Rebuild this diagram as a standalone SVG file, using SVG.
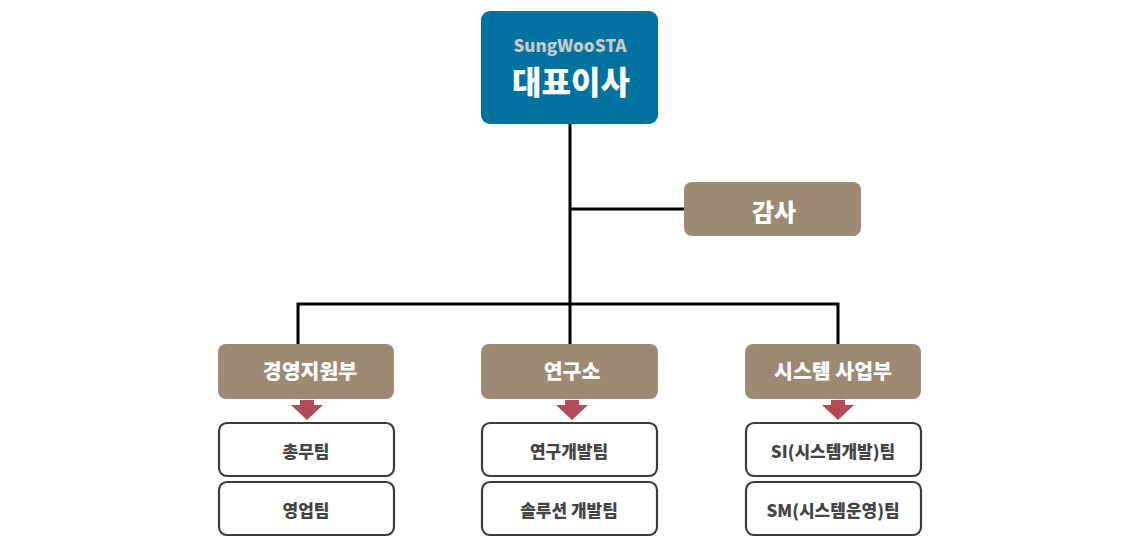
<svg xmlns="http://www.w3.org/2000/svg" width="1140" height="549" viewBox="0 0 1140 549">
<style>
.t{font-family:"Noto Sans CJK KR","Noto Sans",sans-serif;font-weight:900;text-anchor:middle;dominant-baseline:central}
.dept rect{fill:#9c8a74}
.dept text{fill:#fff;font-size:20.5px}
.team rect{fill:#fff;stroke:#3c3c3c;stroke-width:2.2}
.team text{fill:#444;font-size:17px}
.arr{fill:#b04b57}
.conn{stroke:#000;stroke-width:3;fill:none}
</style>
<rect width="1140" height="549" fill="#fff"/>
<g id="connectors">
<path class="conn" d="M570 124V304M570 209H684M298 344V304H838V344M570 304V344"/>
</g>
<g id="ceo">
<rect x="481" y="11" width="177" height="113" rx="9" fill="#0072a0"/>
<text class="t" x="570" y="44" font-size="17" fill="#c9c9c9">SungWooSTA</text>
<text class="t" x="571" y="80" font-size="32" fill="#fff">대표이사</text>
</g>
<g id="audit" class="dept">
<rect x="684" y="182" width="177" height="54" rx="8"/>
<text class="t" x="774" y="210" style="font-size:24px">감사</text>
</g>
<g id="dept1" class="dept">
<rect x="218" y="344" width="176" height="55" rx="8"/>
<text class="t" x="310" y="370">경영지원부</text>
</g>
<g id="dept2" class="dept">
<rect x="481" y="344" width="177" height="55" rx="8"/>
<text class="t" x="572" y="370">연구소</text>
</g>
<g id="dept3" class="dept">
<rect x="745" y="344" width="176" height="55" rx="8"/>
<text class="t" x="833" y="370">시스템 사업부</text>
</g>
<g id="arrows">
<path class="arr" d="M300 400H314V405H323L307 420L291 405H300Z"/>
<path class="arr" d="M565 400H579V405H588L572 420L556 405H565Z"/>
<path class="arr" d="M831 400H845V405H854L838 420L822 405H831Z"/>
</g>
<g id="team1" class="team">
<rect x="219" y="423" width="175" height="53" rx="8"/>
<text class="t" x="306" y="450">총무팀</text>
</g>
<g id="team2" class="team">
<rect x="219" y="482" width="175" height="53" rx="8"/>
<text class="t" x="306" y="509">영업팀</text>
</g>
<g id="team3" class="team">
<rect x="482" y="423" width="175" height="53" rx="8"/>
<text class="t" x="569" y="450">연구개발팀</text>
</g>
<g id="team4" class="team">
<rect x="482" y="482" width="175" height="53" rx="8"/>
<text class="t" x="569" y="509">솔루션 개발팀</text>
</g>
<g id="team5" class="team">
<rect x="746" y="423" width="175" height="53" rx="8"/>
<text class="t" x="833" y="450">SI(시스템개발)팀</text>
</g>
<g id="team6" class="team">
<rect x="746" y="482" width="175" height="53" rx="8"/>
<text class="t" x="833" y="509">SM(시스템운영)팀</text>
</g>
</svg>
